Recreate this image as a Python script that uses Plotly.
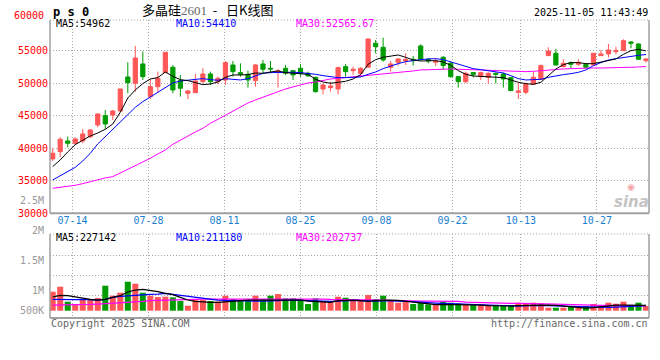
import plotly.graph_objects as go

# ---------------- data ----------------
dates = (["07-09", "07-10", "07-11"]
         + ["07-%02d" % d for d in (14, 15, 16, 17, 18, 21, 22, 23, 24, 25, 28, 29, 30, 31)]
         + ["08-%02d" % d for d in (1, 4, 5, 6, 7, 8, 11, 12, 13, 14, 15, 18, 19, 20, 21, 22, 25, 26, 27, 28, 29)]
         + ["09-%02d" % d for d in (1, 2, 3, 4, 5, 8, 9, 10, 11, 12, 15, 16, 17, 18, 19, 22, 23, 24, 25, 26, 29, 30)]
         + ["10-%02d" % d for d in (9, 10, 13, 14, 15, 16, 17, 20, 21, 22, 23, 24, 27, 28, 29, 30, 31)]
         + ["11-03", "11-04", "11-05"])

open_ = [38355, 39480, 41120, 40765, 41120, 41790, 43580, 45015, 45120, 45735,
         50960, 49990, 52960, 47940, 49475, 51630, 52450, 50400, 48450, 48550,
         50245, 51420, 50245, 50500, 52805, 51630, 51370, 50400, 52960, 52295,
         51630, 52295, 51935, 52295, 51525, 50910, 49115, 49320, 49115, 52550,
         51935, 51525, 52450, 56140, 55520, 52450, 53215, 53420, 53680, 55730,
         53680, 53215, 53985, 53060, 51010, 50245, 51630, 51010, 50910, 51525,
         51420, 50860, 48605, 48605, 49835, 50600, 54240, 54600, 52550, 53165,
         52910, 52910, 52805, 54240, 54500, 54855, 55010, 56340, 56035, 53470]
high = [39995, 41685, 41790, 41685, 42965, 42965, 45375, 45890, 45890, 49115,
        53215, 55730, 54855, 50600, 51780, 54755, 52805, 51270, 48960, 51420,
        52295, 51780, 51010, 53420, 53420, 53060, 51935, 52960, 53575, 53420,
        52140, 52805, 52040, 52960, 51780, 51010, 49990, 50245, 52550, 52960,
        52550, 52450, 56805, 56650, 57010, 53420, 53830, 54600, 54190, 55985,
        53830, 53830, 54190, 53320, 51115, 51780, 51680, 51780, 51680, 51630,
        51630, 50910, 50090, 50090, 51780, 52910, 55520, 55265, 53680, 53320,
        53680, 53060, 54600, 55110, 56035, 55625, 56750, 56495, 56140, 53830]
low = [38045, 38610, 40150, 40505, 40765, 41530, 43220, 42965, 44350, 45630,
       48450, 48705, 50500, 47530, 48605, 51525, 48450, 47940, 47530, 48450,
       49990, 49730, 49835, 49730, 51010, 51010, 49320, 49475, 51525, 51525,
       49320, 51270, 50500, 51010, 51010, 48550, 48295, 48705, 48295, 51010,
       51270, 51010, 52450, 54600, 53320, 51780, 52705, 52805, 52705, 53470,
       53060, 52650, 52040, 50860, 49320, 49990, 50860, 50500, 49990, 49990,
       49320, 48810, 47580, 48295, 49730, 50500, 54190, 52705, 52450, 52295,
       52650, 52295, 52705, 54190, 53935, 54445, 55010, 55370, 53575, 53165]
close = [39225, 41380, 40765, 41430, 42200, 42810, 45270, 43735, 45735, 49115,
         50090, 53880, 51010, 49475, 50755, 54755, 48960, 49220, 48810, 50345,
         51420, 50245, 50755, 53165, 51780, 51370, 50500, 52805, 52140, 52190,
         51935, 51525, 51270, 51525, 51115, 48705, 49730, 49580, 52395, 51780,
         52140, 52295, 56805, 55625, 53575, 52960, 53730, 53680, 53470, 53680,
         53420, 53420, 52705, 51010, 50245, 51525, 51370, 51630, 51525, 51370,
         50655, 48860, 48810, 49835, 50910, 52705, 54960, 52805, 53060, 52910,
         53215, 52450, 54600, 54500, 55110, 55010, 56545, 56140, 53680, 53730]

ma5 = [37175, 38200, 39430, 40560, 41225, 41890, 42350, 42915, 43735, 45530,
       47730, 48960, 49935, 50655, 50860, 51730, 51065, 50550, 50400, 50140,
       49780, 49885, 50190, 50910, 51270, 51270, 51320, 51575, 51525, 51730,
       51885, 51630, 51575, 51475, 51370, 50600, 50190, 49990, 50140, 50295,
       50650, 51325, 52910, 53625, 53985, 54190, 54345, 53985, 53575, 53420,
       53420, 53470, 53270, 52755, 51935, 51370, 51115, 51065, 51010, 50960,
       50860, 50500, 50140, 49935, 49835, 50140, 51220, 52190, 52860, 53165,
       53165, 53010, 53010, 53215, 53470, 53730, 54445, 55010, 55215, 54962]
ma10 = [35125, 35740, 36355, 37070, 38045, 39225, 40660, 41790, 42815, 43940,
        45220, 46295, 47170, 47885, 48655, 49425, 50040, 50345, 50500, 50655,
        50705, 50550, 50450, 50705, 50600, 50500, 50705, 51165, 51525, 51630,
        51680, 51680, 51680, 51630, 51525, 51370, 51165, 50960, 50860, 50860,
        50860, 50960, 51370, 51730, 52240, 52650, 53010, 53320, 53525, 53625,
        53730, 53780, 53625, 53270, 52860, 52500, 52240, 52090, 51935, 51780,
        51575, 51165, 50705, 50500, 50500, 50600, 50910, 51165, 51320, 51475,
        51680, 52040, 52705, 53165, 53575, 53780, 53985, 54190, 54290, 54410]
ma30 = [33845, 34000, 34100, 34305, 34560, 34870, 35230, 35435, 35640, 36200,
        36765, 37275, 37945, 38455, 39120, 39740, 40610, 41275, 41890, 42505,
        43070, 43840, 44450, 45070, 45735, 46400, 46965, 47425, 47835, 48350,
        48705, 49115, 49425, 49780, 50040, 50190, 50450, 50655, 50755, 50860,
        50960, 51065, 51220, 51320, 51475, 51525, 51630, 51730, 51885, 52040,
        52090, 52190, 52240, 52190, 52140, 52140, 52090, 52040, 51985, 51935,
        51885, 51830, 51780, 51780, 51830, 51935, 52040, 52140, 52190, 52240,
        52295, 52295, 52345, 52345, 52345, 52395, 52450, 52450, 52500, 52566]

volume = [798000, 1008000, 378000, 280000, 476000, 448000, 532000, 1050000, 630000, 756000,
          1218000, 1134000, 756000, 630000, 574000, 588000, 560000, 406000, 210000, 448000,
          448000, 406000, 378000, 630000, 490000, 448000, 448000, 630000, 476000, 630000,
          700000, 518000, 518000, 476000, 280000, 518000, 406000, 378000, 588000, 546000,
          420000, 448000, 658000, 490000, 630000, 420000, 336000, 378000, 280000, 336000,
          266000, 238000, 378000, 336000, 308000, 238000, 238000, 238000, 238000, 196000,
          238000, 238000, 336000, 308000, 336000, 308000, 126000, 126000, 126000, 196000,
          126000, 196000, 280000, 196000, 336000, 294000, 378000, 238000, 336000, 196000]
vma5 = [574000, 644000, 630000, 574000, 532000, 476000, 448000, 476000, 560000, 630000,
        784000, 868000, 896000, 854000, 798000, 728000, 672000, 560000, 448000, 392000,
        364000, 350000, 350000, 378000, 420000, 448000, 448000, 448000, 448000, 462000,
        476000, 448000, 448000, 448000, 406000, 378000, 364000, 350000, 420000, 448000,
        448000, 420000, 392000, 420000, 448000, 448000, 434000, 392000, 350000, 308000,
        266000, 252000, 266000, 266000, 266000, 266000, 252000, 238000, 210000, 196000,
        196000, 196000, 210000, 224000, 224000, 238000, 238000, 224000, 196000, 168000,
        126000, 112000, 126000, 168000, 210000, 238000, 238000, 238000, 238000, 227142]
vma10 = [476000, 462000, 448000, 462000, 476000, 462000, 448000, 476000, 560000, 602000,
         630000, 658000, 686000, 686000, 700000, 728000, 686000, 644000, 602000, 560000,
         504000, 476000, 448000, 434000, 420000, 420000, 406000, 406000, 406000, 406000,
         420000, 434000, 448000, 434000, 420000, 420000, 420000, 392000, 406000, 434000,
         434000, 420000, 406000, 406000, 420000, 420000, 406000, 392000, 378000, 350000,
         336000, 322000, 308000, 294000, 280000, 266000, 252000, 238000, 224000, 210000,
         196000, 196000, 196000, 210000, 224000, 224000, 210000, 210000, 196000, 182000,
         168000, 154000, 140000, 140000, 140000, 154000, 168000, 182000, 196000, 211180]
vma30 = [238000, 238000, 238000, 238000, 252000, 266000, 280000, 294000, 308000, 336000,
         350000, 378000, 392000, 420000, 434000, 448000, 462000, 476000, 476000, 490000,
         490000, 490000, 490000, 490000, 504000, 504000, 504000, 518000, 518000, 518000,
         504000, 504000, 504000, 504000, 490000, 490000, 490000, 476000, 476000, 476000,
         476000, 476000, 462000, 448000, 448000, 434000, 420000, 420000, 406000, 406000,
         406000, 406000, 406000, 406000, 392000, 364000, 350000, 336000, 322000, 322000,
         308000, 308000, 308000, 308000, 294000, 294000, 280000, 280000, 266000, 252000,
         238000, 238000, 224000, 224000, 224000, 224000, 210000, 210000, 210000, 202737]

tick_dates = ["07-14", "07-28", "08-11", "08-25", "09-08", "09-22", "10-13", "10-27"]
price_ticks = [30000, 35000, 40000, 45000, 50000, 55000]
top_price_label = "60000"
vol_axis_labels = ["2.5M", "2M", "1.5M", "1M", "500K"]
ma_text = ["MA5:54962", "MA10:54410", "MA30:52565.67"]
vma_text = ["MA5:227142", "MA10:211180", "MA30:202737"]

# ---------------- styling ----------------
RED = "#ff5757"
GREEN = "#009c00"
GRID = "#a8a8a8"
BORDER = "#a0a0a0"
MONO = "DejaVu Sans Mono"
W, H = 660, 360
L, R, T, B = 50, 11, 20, 42
PW, PH = W - L - R, H - T - B


def px(x):
    return (x - L) / PW


def py(y):
    return (H - B - y) / PH


MAIN_DOM = [py(213.3), 1.0]
VOL_DOM = [0.0, py(234)]

x = list(range(len(dates)))
GRID_STEP = 7.6 / 7.51
tickpos = [dates.index(d) * GRID_STEP - 0.4 for d in tick_dates]
XR = [-0.36, 79.4]

fig = go.Figure()
fig.add_trace(go.Candlestick(
    x=x, open=open_, high=high, low=low, close=close,
    increasing=dict(line=dict(color=RED, width=1), fillcolor=RED),
    decreasing=dict(line=dict(color=GREEN, width=1), fillcolor=GREEN),
    whiskerwidth=0, xaxis="x", yaxis="y", showlegend=False, hoverinfo="skip"))
for series, col in ((ma30, "#ff00ff"), (ma10, "#0000ff"), (ma5, "#000000")):
    fig.add_trace(go.Scatter(x=x, y=series, mode="lines", line=dict(color=col, width=1),
                             xaxis="x", yaxis="y", showlegend=False, hoverinfo="skip"))

vcolors = [RED if c >= o else GREEN for o, c in zip(open_, close)]
fig.add_trace(go.Bar(x=x, y=volume, marker=dict(color=vcolors, line=dict(width=0)),
                     width=0.8, xaxis="x2", yaxis="y2", showlegend=False, hoverinfo="skip"))
for series, col in ((vma30, "#ff00ff"), (vma10, "#0000ff"), (vma5, "#000000")):
    fig.add_trace(go.Scatter(x=x, y=series, mode="lines", line=dict(color=col, width=1.2),
                             xaxis="x2", yaxis="y2", showlegend=False, hoverinfo="skip"))

dot = "1px,2px"
fig.update_layout(
    width=W, height=H, margin=dict(l=L, r=R, t=T, b=B),
    paper_bgcolor="white", plot_bgcolor="white", boxgap=0.2,
    xaxis=dict(domain=[0, 1], anchor="y", range=XR, tickvals=tickpos, ticktext=tick_dates,
               tickfont=dict(family=MONO, size=10, color="#1a7fd0"), ticks="",
               showgrid=True, gridcolor=GRID, griddash=dot, gridwidth=1,
               zeroline=False, showline=False, rangeslider=dict(visible=False),
               fixedrange=True),
    yaxis=dict(domain=MAIN_DOM, anchor="x", range=[30000, 59720], tickvals=price_ticks,
               ticktext=[str(v) for v in price_ticks], ticks="", ticklabelstandoff=1,
               tickfont=dict(family=MONO, size=10, color="#ff0000"),
               showgrid=True, gridcolor=GRID, griddash=dot, zeroline=False, showline=False),
    xaxis2=dict(domain=[0, 1], anchor="y2", range=XR, tickvals=tickpos, showticklabels=False,
                ticks="", showgrid=True, gridcolor=GRID, griddash=dot, zeroline=False,
                showline=False, matches="x"),
    yaxis2=dict(domain=VOL_DOM, anchor="x2", range=[-306600, 3221400],
                tickvals=[630000, 1470000, 2310000], showticklabels=False, ticks="",
                showgrid=True, gridcolor=GRID, griddash=dot, zeroline=False, showline=False),
)

# panel borders
shapes = []
for lo, hi in (MAIN_DOM, VOL_DOM):
    shapes.append(dict(type="line", xref="paper", yref="paper", x0=0, x1=0, y0=lo, y1=hi,
                       line=dict(color=BORDER, width=1.5)))
    shapes.append(dict(type="line", xref="paper", yref="paper", x0=1, x1=1, y0=lo, y1=hi,
                       line=dict(color=BORDER, width=1.5)))
    shapes.append(dict(type="line", xref="paper", yref="paper", x0=0, x1=1, y0=lo, y1=lo,
                       line=dict(color=BORDER, width=2)))
    shapes.append(dict(type="line", xref="paper", yref="paper", x0=0, x1=1, y0=hi, y1=hi,
                       line=dict(color=GRID, width=1, dash=dot)))
fig.update_layout(shapes=shapes)

ann = []


def text(t, x0, y0, color="#000", size=10, family=MONO, xanchor="left", **kw):
    ann.append(dict(text=t, x=px(x0), y=py(y0), xref="paper", yref="paper",
                    xanchor=xanchor, yanchor="middle", showarrow=False,
                    font=dict(family=family, size=size, color=color), **kw))


text("<b>p s 0</b>", 51, 11.5, size=12)
text('多晶硅<span style="font-family:Liberation Serif;color:#666;font-size:13px">2601</span>'
     '&nbsp;&nbsp;-&nbsp;&nbsp;&nbsp;日K线图',
     140, 10, size=13, family="Noto Sans CJK SC")
text("2025-11-05 11:43:49", 650, 12, xanchor="right")
text(top_price_label, 46, 15.7, color="#ff0000", xanchor="right")

for t, xx, col in zip(ma_text, (54, 174, 294), ("#000000", "#0000ff", "#ff00ff")):
    text(t, xx, 23.5, color=col)
for t, xx, col in zip(vma_text, (54, 174, 294), ("#000000", "#0000ff", "#ff00ff")):
    text(t, xx, 237.7, color=col)

for t, yy in zip(vol_axis_labels, (200.7, 230.7, 260.7, 290.7, 310.7)):
    text(t, 46, yy, color="#999999", xanchor="right")

text("Copyright 2025 SINA.COM", 49, 323, color="#666666")
text("http://finance.sina.com.cn", 650, 323, color="#666666", xanchor="right")

# sina watermark
text("◉", 631, 187, color="#f3a3a3", size=9, family="DejaVu Sans", xanchor="center")
text("<b><i>sina</i></b>", 651, 202, color="#c4c4c4", size=15, family="DejaVu Sans",
     xanchor="right")

fig.update_layout(annotations=ann)
fig.write_html("out.html", config={"displayModeBar": False},
               post_script="document.body.style.margin='0';document.body.style.padding='0';")
